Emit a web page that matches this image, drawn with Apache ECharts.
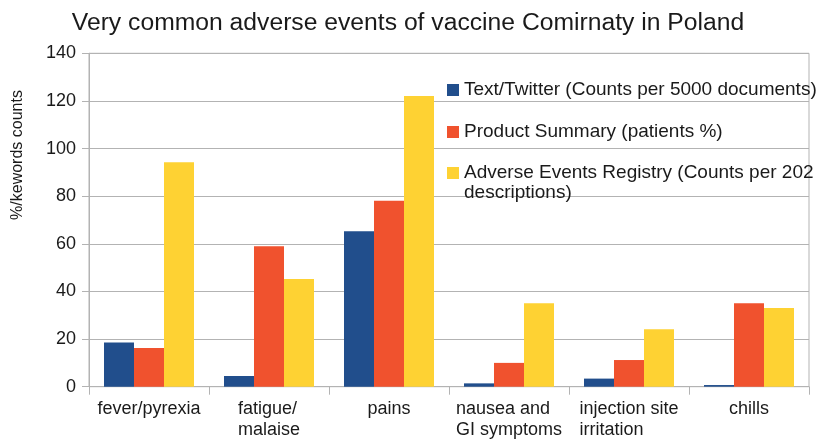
<!DOCTYPE html>
<html>
<head>
<meta charset="utf-8">
<script src="https://cdn.jsdelivr.net/npm/echarts@6/dist/echarts.min.js"></script>
<style>html,body{margin:0;padding:0;background:#fff}#c{width:816px;height:439px}</style>
</head>
<body>
<div id="c"></div>
<script>
var categories = ['fever/pyrexia', 'fatigue/\nmalaise', 'pains', 'nausea and\nGI symptoms', 'injection site\nirritation', 'chills'];
var seriesNames = ['Text/Twitter (Counts per 5000 documents)', 'Product Summary (patients %)', 'Adverse Events Registry (Counts per 202 descriptions)'];
var twitter = [18.6, 4.5, 65.3, 1.4, 3.4, 0.7];
var product = [16.2, 59, 78.1, 10, 11.2, 35];
var registry = [94.2, 45.2, 122.1, 35, 24.1, 33];
var yTicks = [0, 20, 40, 60, 80, 100, 120, 140];
var titleText = 'Very common adverse events of vaccine Comirnaty in Poland';
var yName = '%/kewords counts';

var FONT = 'Liberation Sans';
var GRAY = '#b3b3b3';
var TXT = '#1a1a1a';
var colors = ['#214e8c', '#f0522e', '#fed233'];

var chart = echarts.init(document.getElementById('c'), null, {renderer: 'canvas'});
chart.setOption({
  animation: false,
  backgroundColor: '#fff',
  color: colors,
  title: {
    text: titleText, left: 'center', top: 11, padding: 0,
    textStyle: {fontFamily: FONT, fontSize: 24.7, fontWeight: 'normal', color: TXT}
  },
  legend: [{
    data: [seriesNames[0], seriesNames[1]],
    orient: 'vertical', left: 447, top: 80, padding: 0, itemGap: 22,
    icon: 'rect', itemWidth: 12, itemHeight: 12, itemStyle: {borderWidth: 0},
    textStyle: {fontFamily: FONT, fontSize: 19, lineHeight: 20, color: TXT}
  }, {
    data: [seriesNames[2]],
    orient: 'vertical', left: 447, top: 143, padding: 0,
    icon: 'rect', itemWidth: 12, itemHeight: 12, itemStyle: {borderWidth: 0},
    formatter: function (n) { return '\u00a0\n' + n.replace(' descriptions)', '\ndescriptions)'); },
    textStyle: {fontFamily: FONT, fontSize: 19, lineHeight: 20, color: TXT}
  }],
  grid: {left: 89, right: 7, top: 53.3, bottom: 52.3, show: true, borderColor: GRAY, borderWidth: 1, containLabel: false, outerBoundsMode: 'none'},
  xAxis: {
    type: 'category', data: categories,
    axisLine: {show: true, lineStyle: {color: GRAY}},
    axisTick: {show: true, length: 8, interval: 0, alignWithLabel: false, lineStyle: {color: GRAY}},
    axisLabel: {
      interval: 0, margin: 12, color: TXT, fontFamily: FONT, fontSize: 18, lineHeight: 21,
      formatter: function (v) { return v.split('\n').map(function (s) { return '{l|' + s + '}'; }).join('\n'); },
      rich: {l: {align: 'left', fontFamily: FONT, fontSize: 18, lineHeight: 21, color: TXT}}
    },
    splitLine: {show: false}
  },
  yAxis: {
    type: 'value', min: yTicks[0], max: yTicks[yTicks.length - 1], interval: yTicks[1] - yTicks[0],
    axisLine: {show: true, lineStyle: {color: GRAY}},
    axisTick: {show: true, length: 7, lineStyle: {color: GRAY}},
    axisLabel: {margin: 13, color: TXT, fontFamily: FONT, fontSize: 18},
    splitLine: {show: true, lineStyle: {color: GRAY, width: 1}}
  },
  graphic: [{
    type: 'text', x: 18, y: 155, rotation: Math.PI / 2,
    style: {text: yName, align: 'center', verticalAlign: 'middle', fontFamily: FONT, fontSize: 16, fill: TXT}
  }],
  series: [
    {name: seriesNames[0], type: 'bar', data: twitter, barGap: '0%', barCategoryGap: '25%'},
    {name: seriesNames[1], type: 'bar', data: product, barGap: '0%', barCategoryGap: '25%'},
    {name: seriesNames[2], type: 'bar', data: registry, barGap: '0%', barCategoryGap: '25%'}
  ]
});
</script>
</body>
</html>
